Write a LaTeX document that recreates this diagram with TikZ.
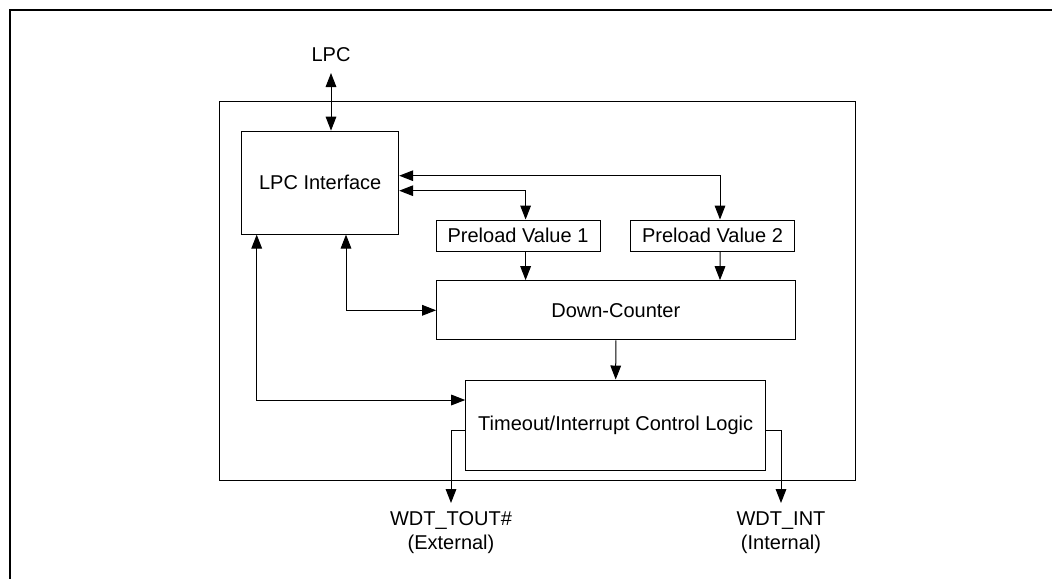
\documentclass[tikz,border=0pt]{standalone}
\usepackage{fontspec}
\setmainfont{Liberation Sans}
\usetikzlibrary{arrows.meta,calc}

\begin{document}
\begin{tikzpicture}[x=0.75pt,y=0.75pt,yscale=-1,xscale=1,
  every node/.style={font=\fontsize{15}{18}\selectfont},
  blockbox/.style={draw,line width=0.75pt,inner sep=0pt},
  pinlabel/.style={inner sep=6pt,align=center},
  dirarrow/.style={line width=0.75pt,-{Triangle[length=10.5pt,width=8pt]}},
  bidirarrow/.style={line width=0.75pt,{Triangle[length=10.5pt,width=8pt]}-{Triangle[length=10.5pt,width=8pt]}}]
\useasboundingbox (0,0) rectangle (1052,579);

%Frame
\draw [line width=1.5pt]  (1052,10) -- (10,10) -- (10,579) ;

%Shape: Rectangle
\draw [line width=0.75pt]  (219,101) rectangle (855,480) ;

% Text Node
\node (lpc) [inner sep=8pt] at (331,55) {LPC};
% Block Nodes
\node (lpcif) [blockbox,minimum width=117.75pt,minimum height=77.25pt] at (320.2,182.6) {LPC Interface};
\node (pv1) [blockbox,minimum width=123pt,minimum height=23.25pt] at (518,235.5) {Preload Value 1};
\node (pv2) [blockbox,minimum width=123pt,minimum height=23.25pt] at (712.5,235.5) {Preload Value 2};
\node (dc) [blockbox,minimum width=268.8pt,minimum height=44.5pt] at (615.8,310.3) {Down-Counter};
\node (tol) [blockbox,minimum width=225pt,minimum height=67.5pt] at (615.7,425) {Timeout/Interrupt Control Logic};
% Text Node
\node (tout) [pinlabel,anchor=north] at (451,503) {WDT\_TOUT\#\\(External)};
\node (int) [pinlabel,anchor=north] at (781,503) {WDT\_INT\\(Internal)};

%Straight Lines
\draw [bidirarrow]  (lpc.south) -- (lpc.south |- lpcif.north) ;
\draw [bidirarrow]  ($(lpcif.east)+(0,-6.9)$) -| ($(pv2.north)+(7.5,0)$) ;
\draw [bidirarrow]  ($(lpcif.east)+(0,8.1)$) -| ($(pv1.north)+(7.6,0)$) ;
\draw [dirarrow]  ($(pv1.south)+(7.6,0)$) -- ($(dc.north)+(-90.2,0)$) ;
\draw [dirarrow]  ($(pv2.south)+(7.5,0)$) -- ($(dc.north)+(104.2,0)$) ;
\draw [dirarrow]  (dc.south) -- (tol.north) ;
\draw [bidirarrow]  (dc.west) -| ($(lpcif.south)+(25.8,0)$) ;
\draw [bidirarrow]  ($(tol.west)+(0,-25)$) -| ($(lpcif.south)+(-63.5,0)$) ;
\draw [dirarrow]  ($(tol.west)+(0,5)$) -| (tout.north) ;
\draw [dirarrow]  ($(tol.east)+(0,5)$) -| (int.north) ;
\end{tikzpicture}
\end{document}
